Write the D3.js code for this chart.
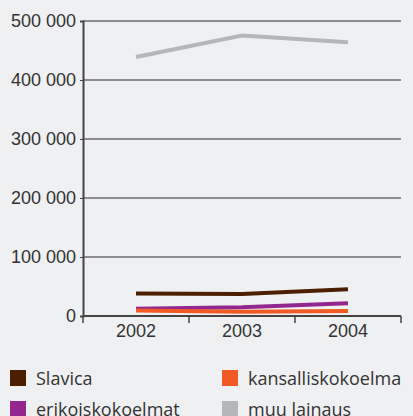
<!DOCTYPE html>
<html>
<head>
<meta charset="utf-8">
<script src="https://cdn.jsdelivr.net/npm/d3@7"></script>
<style>
  html, body { margin: 0; padding: 0; background: #eff0f2; }
  svg { display: block; font-family: "Open Sans", sans-serif; }
</style>
</head>
<body>
<svg id="chart" width="413" height="416"></svg>
<script>
// data
const years = ["2002", "2003", "2004"];
const slavica = [38000, 37500, 45500];
const kansalliskokoelma = [9500, 7000, 8500];
const erikoiskokoelmat = [12500, 15000, 21500];
const muuLainaus = [439000, 475500, 464000];
const yTicks = [0, 100000, 200000, 300000, 400000, 500000];

const seriesNames = ["Slavica", "kansalliskokoelma", "erikoiskokoelmat", "muu lainaus"];
const seriesValues = [slavica, kansalliskokoelma, erikoiskokoelmat, muuLainaus];
const seriesColors = ["#4b1f00", "#f15a24", "#93278f", "#b5b6b8"];

const svg = d3.select("#chart");
const margin = {top: 21, right: 12, bottom: 100, left: 83};
const width = 413 - margin.left - margin.right;
const height = 416 - margin.top - margin.bottom;

const g = svg.append("g").attr("transform", `translate(${margin.left},${margin.top})`);

const x = d3.scaleBand().domain(years).range([0, width]);
const y = d3.scaleLinear().domain([0, 500000]).range([height, 0]);

const fmt = v => d3.format(",")(v).replace(/,/g, " ");

// gridlines
g.append("g")
  .selectAll("line")
  .data(yTicks.filter(d => d > 0))
  .join("line")
    .attr("x1", 0).attr("x2", width)
    .attr("y1", d => y(d)).attr("y2", d => y(d))
    .attr("stroke", "#2a2a2a")
    .attr("stroke-width", 1);

// y axis
const yAxis = g.append("g")
  .call(d3.axisLeft(y).tickValues(yTicks).tickFormat(fmt).tickSize(3).tickPadding(4));
yAxis.select(".domain").attr("stroke", "#444").attr("stroke-width", 2);
yAxis.selectAll(".tick line").attr("stroke", "#444");
yAxis.selectAll("text").attr("fill", "#333").style("font-size", "18px");

// x axis
const xAxis = g.append("g")
  .attr("transform", `translate(0,${height})`)
  .call(d3.axisBottom(x).tickSize(0).tickPadding(8));
xAxis.select(".domain").remove();
xAxis.selectAll("text").attr("fill", "#333").style("font-size", "18px");

g.append("line")
  .attr("x1", 0).attr("x2", width)
  .attr("y1", height).attr("y2", height)
  .attr("stroke", "#444").attr("stroke-width", 2);

// band edge ticks
const edges = years.map(d => x(d)).concat([width]);
g.append("g")
  .selectAll("line")
  .data(edges)
  .join("line")
    .attr("x1", d => d).attr("x2", d => d)
    .attr("y1", height).attr("y2", height + 7)
    .attr("stroke", "#444").attr("stroke-width", 1.5);

// lines
const line = d3.line()
  .x((d, i) => x(years[i]) + x.bandwidth() / 2)
  .y(d => y(d));

const drawOrder = [3, 0, 2, 1];
g.append("g")
  .selectAll("path")
  .data(drawOrder)
  .join("path")
    .attr("d", i => line(seriesValues[i]))
    .attr("fill", "none")
    .attr("stroke", i => seriesColors[i])
    .attr("stroke-width", 4);

// legend
const legend = svg.append("g").attr("transform", "translate(10,370)");
const items = legend.selectAll("g")
  .data(seriesNames)
  .join("g")
    .attr("transform", (d, i) => `translate(${(i % 2) * 212},${Math.floor(i / 2) * 31})`);
items.append("rect")
  .attr("width", 16).attr("height", 16)
  .attr("fill", (d, i) => seriesColors[i]);
items.append("text")
  .attr("x", 26).attr("y", 15)
  .attr("fill", "#333")
  .style("font-size", "18px")
  .text(d => d);
</script>
</body>
</html>
